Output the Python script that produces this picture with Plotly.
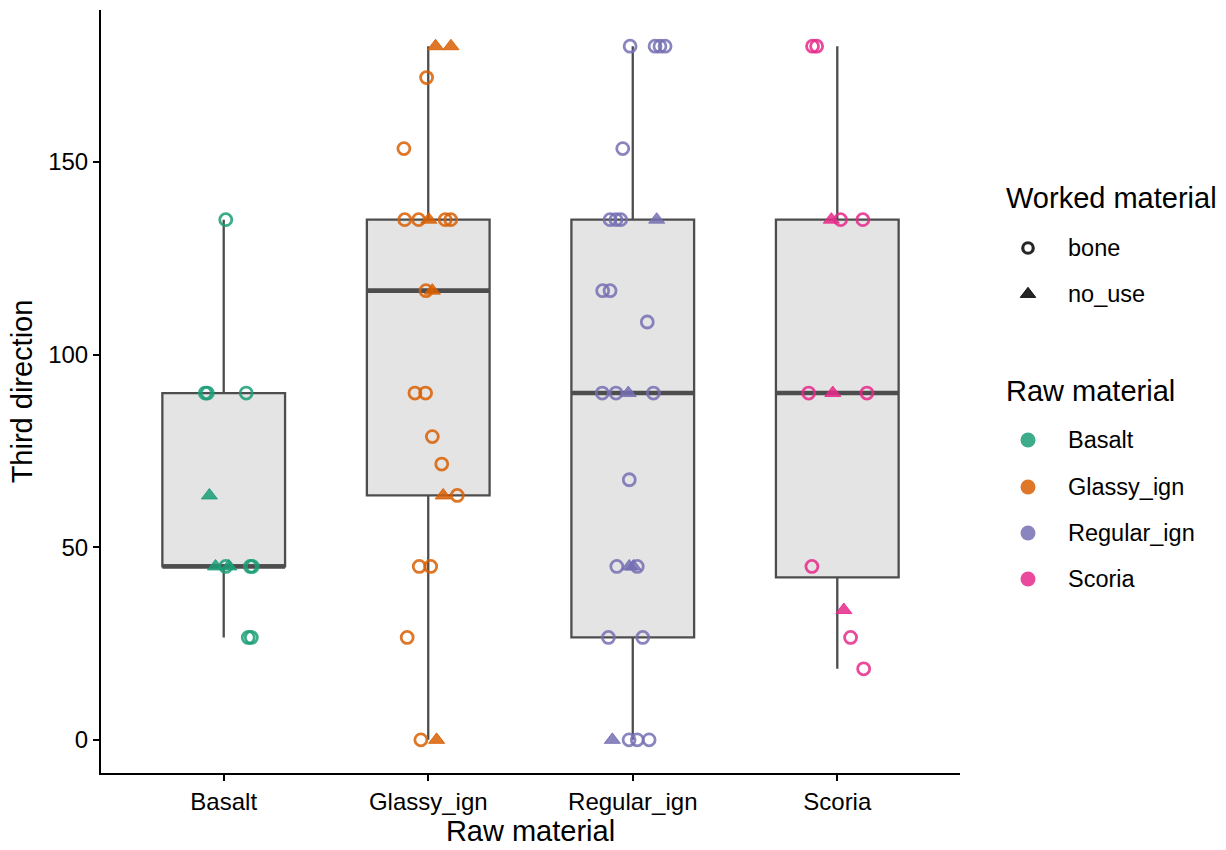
import plotly.graph_objects as go

# ---------------- data ----------------
categories = ["Basalt", "Glassy_ign", "Regular_ign", "Scoria"]
worked_levels = ["bone", "no_use"]
dark2 = ["rgba(27,158,119,0.85)", "rgba(217,95,2,0.85)",
         "rgba(117,112,179,0.85)", "rgba(231,41,138,0.85)"]

# box statistics (as drawn)
box_q1 = [45.0, 63.43, 26.57, 42.17]
box_median = [45.0, 116.57, 90.0, 90.0]
box_q3 = [90.0, 135.0, 135.0, 135.0]
box_lower = [26.57, 0.0, 0.0, 18.43]
box_upper = [135.0, 180.0, 180.0, 180.0]

# individual observations: raw material, worked material, value, horizontal jitter
basalt_worked = ["bone"] * 9 + ["no_use"] * 3
basalt_value = [135, 90, 90, 90, 45, 45, 45, 26.57, 26.57, 63.43, 45, 45]
basalt_jitter = [0.01, -0.09, -0.08, 0.11, 0.01, 0.13, 0.14, 0.12, 0.135, -0.07, -0.04, 0.025]

glassy_worked = ["bone"] * 16 + ["no_use"] * 6
glassy_value = [171.87, 153.43, 135, 135, 135, 135, 116.57, 90, 90, 78.69, 71.57, 63.43,
                45, 45, 26.57, 0, 180, 180, 135, 116.57, 63.43, 0]
glassy_jitter = [-0.008, -0.119, -0.115, -0.047, 0.083, 0.11, -0.011, -0.065, -0.013, 0.02,
                 0.066, 0.142, -0.044, 0.012, -0.103, -0.036, 0.036, 0.111, 0.003, 0.02, 0.073, 0.041]

regular_worked = ["bone"] * 22 + ["no_use"] * 5
regular_value = [180, 180, 180, 180, 153.43, 135, 135, 135, 116.57, 116.57, 108.43, 90, 90, 90,
                 67.5, 45, 45, 26.57, 26.57, 0, 0, 0, 135, 90, 45, 45, 0]
regular_jitter = [-0.013, 0.109, 0.133, 0.158, -0.049, -0.111, -0.082, -0.059, -0.147, -0.111,
                  0.071, -0.149, -0.082, 0.101, -0.017, -0.078, 0.022, -0.119, 0.049, -0.018,
                  0.022, 0.08, 0.117, -0.022, -0.017, 0.003, -0.1]

scoria_worked = ["bone"] * 9 + ["no_use"] * 3
scoria_value = [180, 180, 135, 135, 90, 90, 45, 26.57, 18.43, 135, 90, 33.69]
scoria_jitter = [-0.121, -0.101, 0.016, 0.125, -0.14, 0.145, -0.124, 0.065, 0.129, -0.029, -0.022, 0.032]

y_ticks = [0, 50, 100, 150]

# ---------------- style ----------------
FONT = "Liberation Sans, Arial, Helvetica, sans-serif"
BOX_LINE = "#4D4D4D"
BOX_FILL = "#E4E4E4"
BOX_WIDTH = 0.6

fig = go.Figure()

xpos = list(range(1, len(categories) + 1))

fig.add_trace(go.Box(
    x=xpos, q1=box_q1, median=box_median, q3=box_q3,
    lowerfence=box_lower, upperfence=box_upper,
    width=BOX_WIDTH, whiskerwidth=0, fillcolor=BOX_FILL,
    line=dict(color=BOX_LINE, width=2.3), boxpoints=False,
    showlegend=False, hoverinfo="skip", xaxis="x", yaxis="y"))

# thick median bars
mx, my = [], []
for xc, m in zip(xpos, box_median):
    mx += [xc - BOX_WIDTH / 2, xc + BOX_WIDTH / 2, None]
    my += [m, m, None]
fig.add_trace(go.Scatter(x=mx, y=my, mode="lines",
                         line=dict(color=BOX_LINE, width=4.6),
                         showlegend=False, hoverinfo="skip"))

groups = [
    (basalt_worked, basalt_value, basalt_jitter),
    (glassy_worked, glassy_value, glassy_jitter),
    (regular_worked, regular_value, regular_jitter),
    (scoria_worked, scoria_value, scoria_jitter),
]
for ci, (wk, vals, jit) in enumerate(groups):
    for lvl in worked_levels:
        xs = [xpos[ci] + j for w, j in zip(wk, jit) if w == lvl]
        ys = [v for w, v in zip(wk, vals) if w == lvl]
        if lvl == "bone":
            marker = dict(symbol="circle-open", size=12, color=dark2[ci],
                          line=dict(width=2.8, color=dark2[ci]))
        else:
            marker = dict(symbol="triangle-up", size=14, color=dark2[ci],
                          line=dict(width=1, color=dark2[ci]))
        fig.add_trace(go.Scatter(x=xs, y=ys, mode="markers", marker=marker,
                                 showlegend=False, name=f"{categories[ci]} {lvl}"))

# ---------------- legend (drawn on a hidden helper axis, pixel units) ----------------
L, R, T, B = 101, 1226, 10, 773
PLOT_RIGHT = 960
dom_split = (PLOT_RIGHT - L) / (R - L)
leg_marker_x = 1028
leg_text_x = 1066
worked_title_y, worked_item_y = 198, [248, 294]
raw_title_y, raw_item_y = 391, [440, 487, 533, 579]
legend_dark = "rgba(0,0,0,0.85)"

fig.add_trace(go.Scatter(x=[leg_marker_x], y=[worked_item_y[0]], mode="markers",
                         marker=dict(symbol="circle-open", size=10.5, color=legend_dark,
                                     line=dict(width=3.2, color=legend_dark)),
                         xaxis="x2", yaxis="y2", showlegend=False, hoverinfo="skip"))
fig.add_trace(go.Scatter(x=[leg_marker_x], y=[worked_item_y[1]], mode="markers",
                         marker=dict(symbol="triangle-up", size=13.5, color=legend_dark,
                                     line=dict(width=1, color=legend_dark)),
                         xaxis="x2", yaxis="y2", showlegend=False, hoverinfo="skip"))
fig.add_trace(go.Scatter(x=[leg_marker_x] * len(categories), y=raw_item_y, mode="markers",
                         marker=dict(symbol="circle", size=15, color=dark2),
                         xaxis="x2", yaxis="y2", showlegend=False, hoverinfo="skip"))

annotations = []
def add_text(txt, x, y, size):
    annotations.append(dict(text=txt, x=x, y=y, xref="x2", yref="y2",
                            xanchor="left", yanchor="middle", showarrow=False,
                            font=dict(family=FONT, size=size, color="black")))

add_text("Worked material", 1004, worked_title_y, 29)
for lab, yy in zip(worked_levels, worked_item_y):
    add_text(lab, leg_text_x, yy, 23.5)
add_text("Raw material", 1004, raw_title_y, 29)
for lab, yy in zip(categories, raw_item_y):
    add_text(lab, leg_text_x, yy, 23.5)

fig.update_layout(
    width=1226, height=850,
    margin=dict(l=L, r=1226 - R, t=T, b=850 - B),
    paper_bgcolor="white", plot_bgcolor="white",
    font=dict(family=FONT, color="black"),
    showlegend=False,
    annotations=annotations,
    xaxis=dict(domain=[0, dom_split], range=[0.4, 4.6], tickvals=xpos, ticktext=categories,
               showgrid=False, zeroline=False, showline=True, linecolor="black", linewidth=2,
               ticks="outside", ticklen=6, tickwidth=2, tickcolor="black",
               tickfont=dict(size=24, color="black"),
               title=dict(text="Raw material", font=dict(size=29, color="black"), standoff=4)),
    yaxis=dict(range=[-8.6, 189.4], tickvals=y_ticks, showgrid=False, zeroline=False,
               showline=True, linecolor="black", linewidth=2,
               ticks="outside", ticklen=6, tickwidth=2, tickcolor="black",
               tickfont=dict(size=24, color="black"),
               title=dict(text="Third direction", font=dict(size=29, color="black"), standoff=7)),
    xaxis2=dict(domain=[dom_split, 1], range=[PLOT_RIGHT, R], visible=False, anchor="y2"),
    yaxis2=dict(domain=[0, 1], range=[B, T], visible=False, anchor="x2"),
)

fig.write_html("out.html")
